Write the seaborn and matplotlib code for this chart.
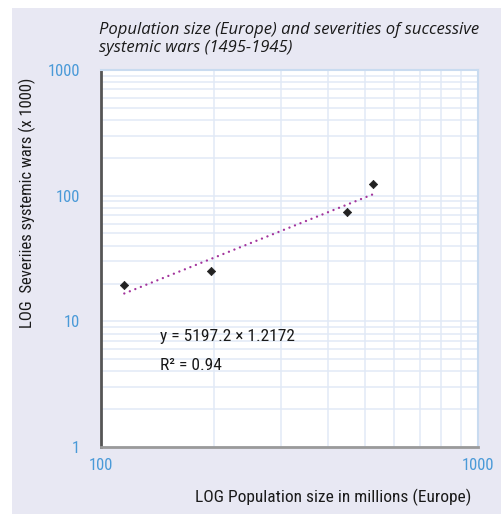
import numpy as np
import pandas as pd
import matplotlib
matplotlib.use("Agg")
import matplotlib.pyplot as plt
import seaborn as sns
from matplotlib import font_manager
from matplotlib.patches import Rectangle
from matplotlib.ticker import FixedLocator, LogLocator, NullFormatter

# Population of Europe (millions) at each systemic war, and war severity (x 1000)
population = [115.3, 196.0, 450.0, 526.6]
severity = [19.5, 25.2, 74.6, 124.6]

x_ticks = [100, 1000]
x_tick_labels = ["100", "1000"]
y_ticks = [1, 10, 100, 1000]
y_tick_labels = ["1", "10", "100", "1000"]

title = "Population size (Europe) and severities of successive\nsystemic wars (1495-1945)"
x_label = "LOG Population size in millions (Europe)"
y_label = "LOG  Severiies systemic wars (x 1000)"
equation = "y = 5197.2 × 1.2172"
r_squared = "R² = 0.94"


def pick_font(candidates):
    names = {f.name for f in font_manager.fontManager.ttflist}
    for c in candidates:
        if c in names:
            return c
    return "DejaVu Sans"


narrow = pick_font(["Liberation Sans Narrow", "Roboto Condensed", "Open Sans Condensed", "Roboto"])
title_font = pick_font(["Open Sans", "Noto Sans", "Lato"])

sns.set_theme(style="white")
plt.rcParams["font.family"] = [narrow, "DejaVu Sans"]

df = pd.DataFrame({"population": population, "severity": severity})

# power-law trend fitted in log-log space
slope, intercept = np.polyfit(np.log10(df["population"]), np.log10(df["severity"]), 1)
fit_x = np.array([df["population"].min(), df["population"].max()])
fit_y = 10 ** (intercept + slope * np.log10(fit_x))

W, H = 502, 515
fig = plt.figure(figsize=(W / 100, H / 100), dpi=100, facecolor="white")
fig.patches.append(Rectangle((12 / W, 1 - 514 / H), 1, (514 - 8) / H,
                             transform=fig.transFigure, facecolor="#e8e8f3",
                             edgecolor="none", zorder=-10))

ax = fig.add_axes([101 / W, 1 - 447 / H, 377 / W, 377 / H])
ax.set_zorder(1)
ax.set_facecolor("white")
ax.set_xscale("log")
ax.set_yscale("log")
ax.set_xlim(100, 1000)
ax.set_ylim(1, 1000)

sns.lineplot(x=fit_x, y=fit_y, ax=ax, color="#a3359d", linewidth=1.7,
             linestyle=(0, (0.01, 2.5)), dash_capstyle="round", zorder=3)
sns.scatterplot(data=df, x="population", y="severity", ax=ax, marker="D",
                s=18, color="#222222", edgecolor="#222222", linewidth=0.5, zorder=4)

ax.xaxis.set_major_locator(FixedLocator(x_ticks))
ax.yaxis.set_major_locator(FixedLocator(y_ticks))
ax.xaxis.set_minor_locator(LogLocator(base=10, subs=range(2, 10)))
ax.yaxis.set_minor_locator(LogLocator(base=10, subs=range(2, 10)))
ax.xaxis.set_minor_formatter(NullFormatter())
ax.yaxis.set_minor_formatter(NullFormatter())
ax.set_xticklabels(x_tick_labels)
ax.set_yticklabels(y_tick_labels)

ax.grid(which="both", color="#e1e9f6", linewidth=1.1)
ax.set_axisbelow(True)

tick_blue = "#4a9ad8"
ax.tick_params(axis="both", which="minor", length=0)
ax.tick_params(axis="y", which="major", direction="in", length=7, width=2,
               color="#a9c9ea", labelcolor=tick_blue, labelsize=12, pad=15)
ax.tick_params(axis="x", which="major", direction="in", length=7, width=2,
               color="#a9c9ea", labelcolor=tick_blue, labelsize=12, pad=8)
ax.xaxis.get_major_ticks()[1].tick1line.set_color("#3a8ad0")

for side, col, lw in [("left", "#555555", 2.0), ("bottom", "#9a9a9a", 2.0),
                      ("top", "#c9dbf0", 1.5), ("right", "#c9dbf0", 1.5)]:
    ax.spines[side].set_visible(True)
    ax.spines[side].set_color(col)
    ax.spines[side].set_linewidth(lw)

ax.set_xlabel(x_label, fontsize=12.5, color="#1a1a1a", va="center")
ax.xaxis.set_label_coords((333 - 101) / 377, (447 - 497) / 377)
ax.set_ylabel(y_label, fontsize=12, color="#1a1a1a", va="center")
ax.yaxis.set_label_coords((27 - 101) / 377, (447 - 203) / 377)

# equation block placed in axes-fraction coordinates
ax.text((160 - 101) / 377, (447 - 336) / 377, equation, fontsize=12.5,
        color="#1a1a1a", va="center", ha="left", zorder=5, transform=ax.transAxes)
ax.text((160 - 101) / 377, (447 - 365) / 377, r_squared, fontsize=12.5,
        color="#1a1a1a", va="center", ha="left", zorder=5, transform=ax.transAxes)

fig.text(99 / W, 1 - 22 / H, title, ha="left", va="top", fontsize=12,
         style="italic", family=[title_font, "DejaVu Sans"], color="#1a1a1a",
         linespacing=1.2)

fig.savefig("out.png", dpi=100, facecolor=fig.get_facecolor())
